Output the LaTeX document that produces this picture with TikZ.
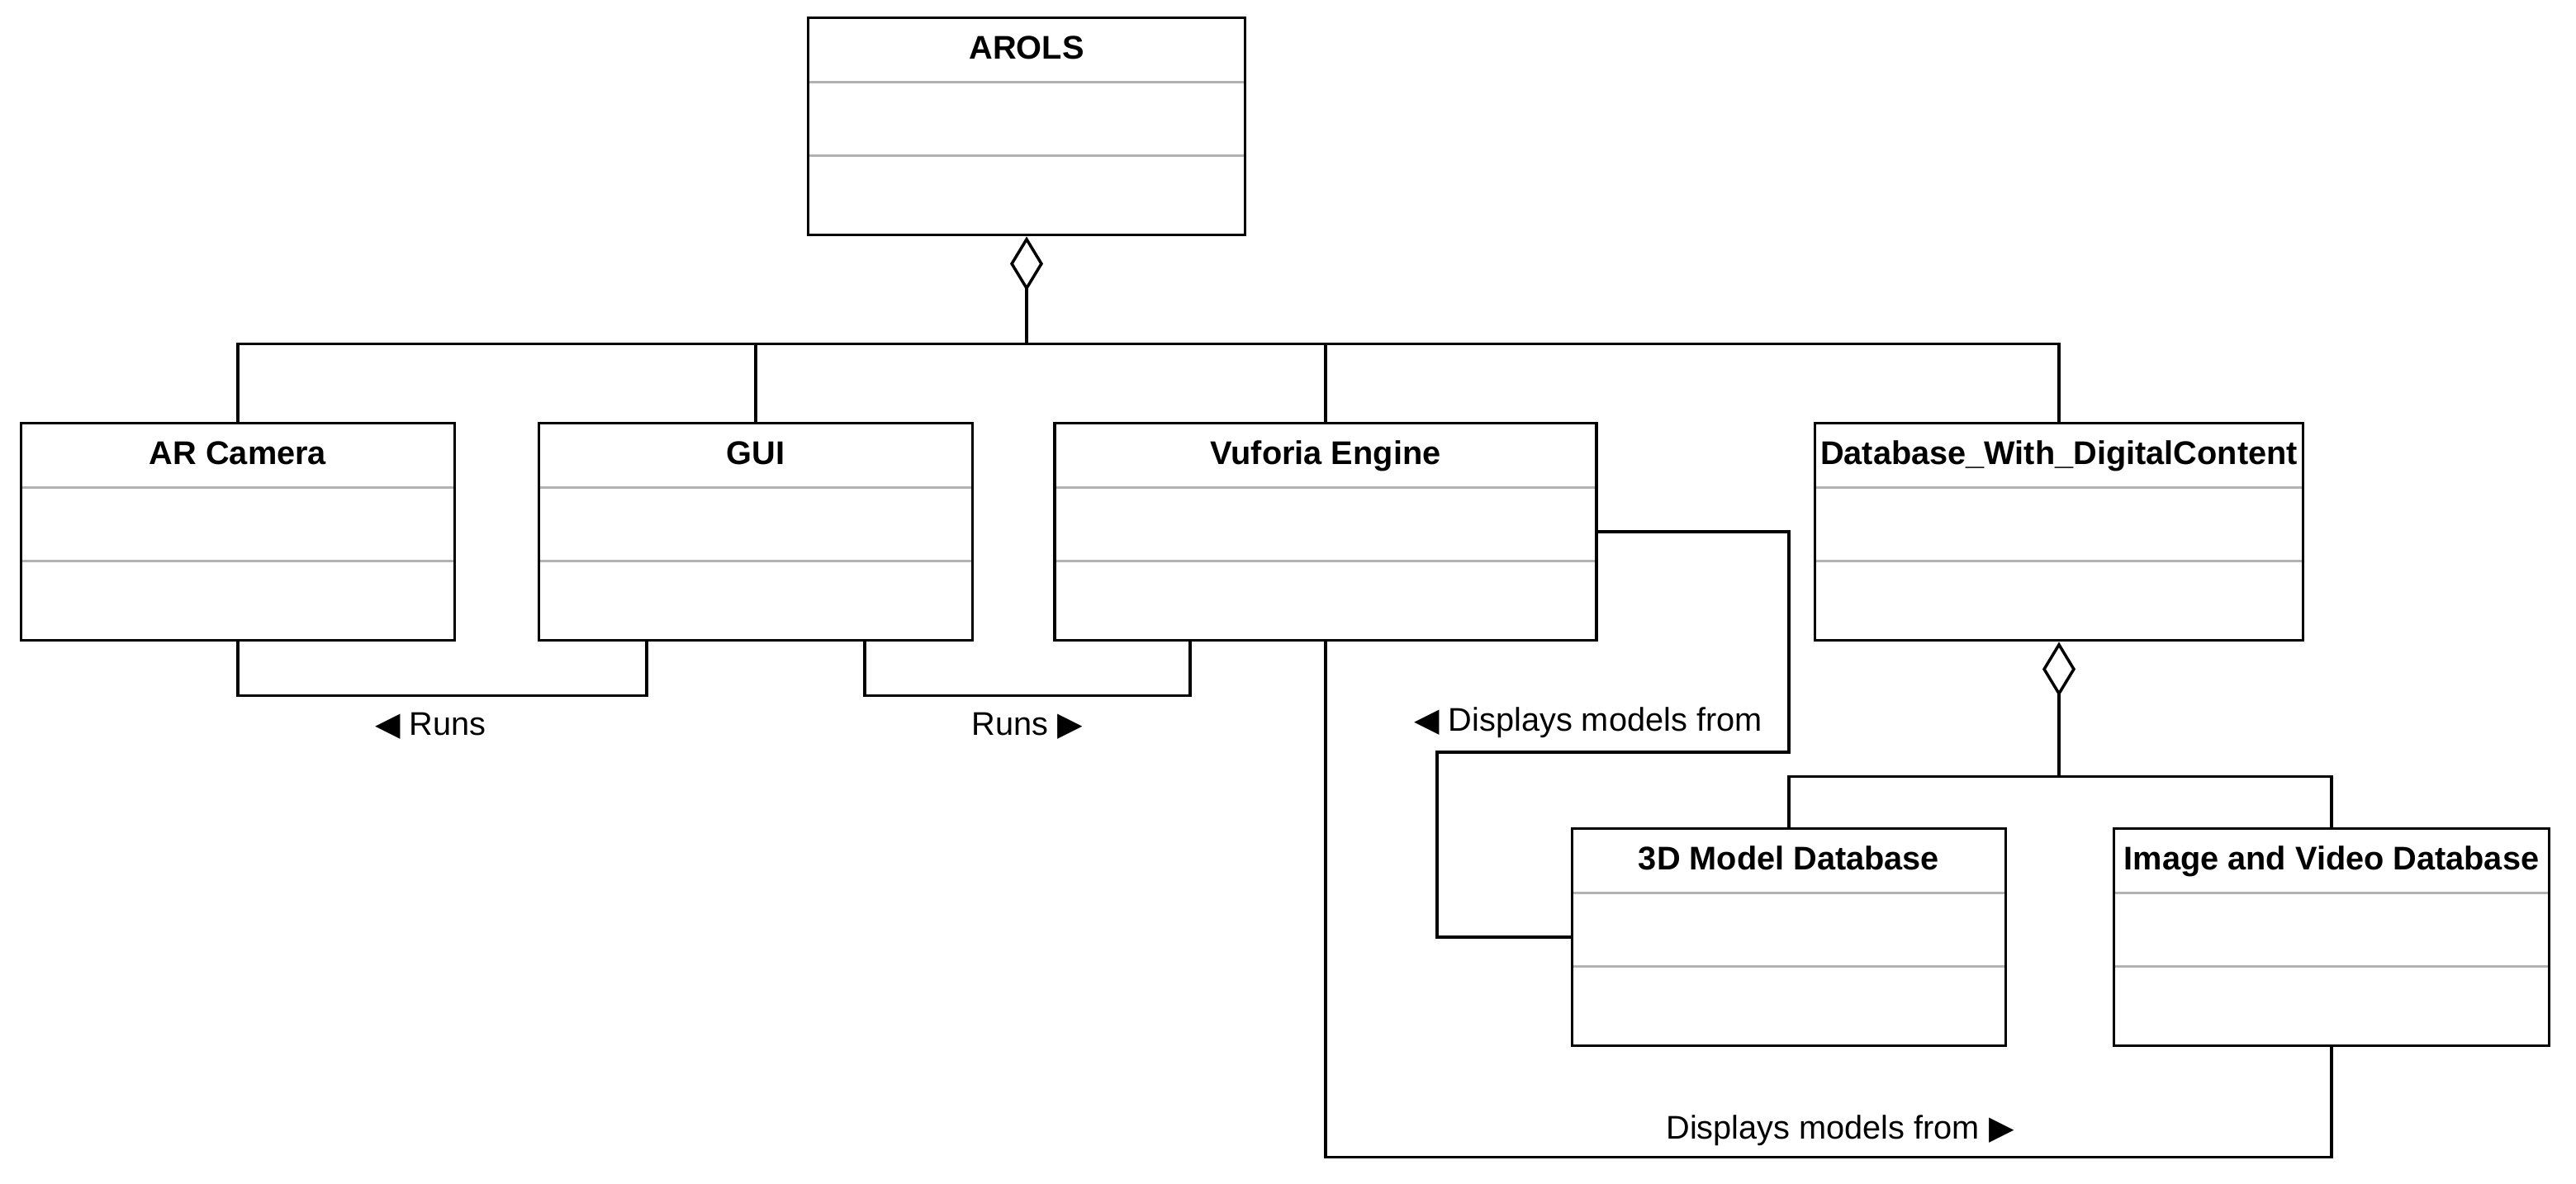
\documentclass[tikz,border=0pt]{standalone}
\usepackage{fontspec}
\setmainfont{Liberation Sans}
\newfontfamily\symfont{DejaVu Sans}
\usetikzlibrary{arrows.meta}
\newcommand{\tril}{{\symfont ◀}}
\newcommand{\trir}{{\symfont ▶}}

\begin{document}
\begin{tikzpicture}[node distance=4.91cm, line width=1pt,
    every node/.style={font=\fontsize{11.3}{13}\selectfont},
    cls/.style={draw, line width=1.1pt, inner sep=0pt, minimum width=5.25cm,
      text height=0.5cm, text depth=2.13cm,
      font=\fontsize{11.3}{13}\selectfont\bfseries,
      path picture={\draw[black!30, line width=0.9pt]
        ([yshift=-0.78cm]path picture bounding box.north west) -- ([yshift=-0.78cm]path picture bounding box.north east)
        ([yshift=-1.67cm]path picture bounding box.north west) -- ([yshift=-1.67cm]path picture bounding box.north east);}},
    agg/.style={{Diamond[open,length=6.6mm,width=4mm]}-}]
      \useasboundingbox (0,0) rectangle (31.19,14.34);

      \node[cls, minimum width=5.29cm] (1) at (12.43,12.81) {AROLS};
      \node[cls, below of=1, xshift=-9.55cm] (2) {AR Camera};
      \node[cls, below of=1, xshift=-3.28cm] (3) {GUI};
      \node[cls, below of=1, xshift=3.62cm, minimum width=6.56cm] (4) {Vuforia Engine};
      \node[cls, below of=1, xshift=12.50cm, minimum width=5.91cm] (5) {Database\_With\_DigitalContent};
      \node[cls, below of=5, xshift=-3.27cm] (6) {3D Model Database};
      \node[cls, below of=5, xshift=3.30cm, minimum width=5.27cm] (7) {Image and Video Database};

      % aggregations
      \draw[agg] (1.south) -- ++(0,-1.30) coordinate (b);
      \draw (2.north) |- (b) -| (5.north);
      \draw (3.north) -- (3.north |- b);
      \draw (4.north) -- (4.north |- b);
      \draw[agg] (5.south) -- ++(0,-1.63) coordinate (c);
      \draw (6.north) |- (c) -| (7.north);

      % associations
      \draw (2.south) -- ++(0,-0.65) -| node[pos=0.25, below=2pt, xshift=-0.14cm] (r1) {\tril\ Runs} ([xshift=-1.32cm]3.south);
      \draw ([xshift=1.32cm]3.south) -- ++(0,-0.65) -| node[pos=0.25, below=2pt] (r2) {Runs \trir} ([xshift=-1.64cm]4.south);
      \draw (4.east) -- ++(2.31,0) -- ++(0,-2.67) -- node[above=1pt, xshift=-0.3cm] (d1) {\tril\ Displays models from} ++(-4.26,0) |- (6.west);
      \draw (4.south) -- ++(0,-6.24) -| node[pos=0.25, above=0pt, xshift=0.14cm] (d2) {Displays models from \trir} (7.south);
    \end{tikzpicture}
\end{document}
